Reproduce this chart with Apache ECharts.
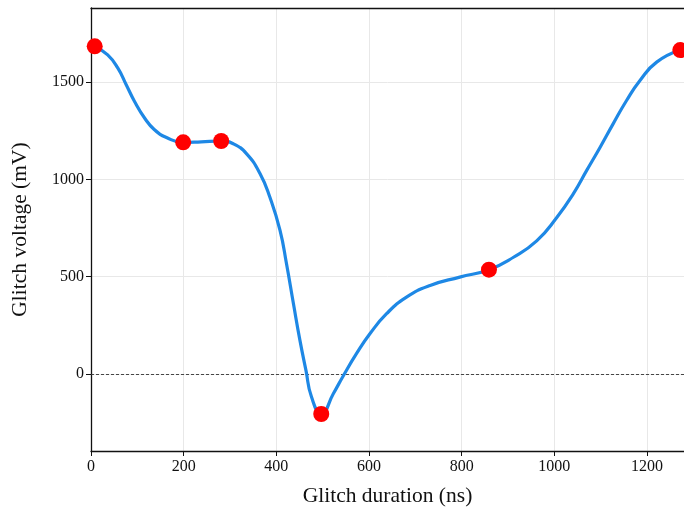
<!DOCTYPE html>
<html>
<head>
<meta charset="utf-8">
<script src="https://cdn.jsdelivr.net/npm/echarts@6/dist/echarts.min.js"></script>
<style>
  html, body { margin: 0; padding: 0; background: #fff; }
  #chart { width: 684px; height: 507px; }
</style>
</head>
<body>
<div id="chart"></div>
<script>
// measured points (red markers)
const pointX = [8, 199, 281, 497, 859, 1272]
const pointY = [1683, 1190, 1197, -205, 536, 1664]

// fitted curve
const curveX = [8, 36, 58, 76, 94, 116, 137, 163, 199, 238, 281, 307, 336, 365, 386, 408, 422, 437, 451, 464, 476, 497,
    523, 545, 573, 602, 638, 681, 732, 796, 859, 912, 962, 1005, 1041, 1070, 1099, 1127, 1156, 1185, 1221, 1272]
const curveY = [1683, 1639, 1571, 1486, 1400, 1314, 1255, 1215, 1190, 1193, 1197, 1183, 1131, 1029, 909, 738, 567, 361, 173, 19, -118, -205,
    -101, -7, 105, 207, 310, 395, 455, 498, 536, 600, 684, 803, 926, 1046, 1165, 1285, 1405, 1508, 1602, 1664]

const xTicks = [0, 200, 400, 600, 800, 1000, 1200]
const yTicks = [0, 500, 1000, 1500]

const font = "'Liberation Serif', 'DejaVu Serif', serif"

const chart = echarts.init(document.getElementById('chart'))
chart.setOption({
    animation: false,
    backgroundColor: '#fff',
    grid: {
        left: 91,
        top: 8,
        right: 0,
        bottom: 56,
        outerBoundsMode: 'none',
    },
    xAxis: [
        {
            type: 'value',
            min: 0,
            max: 1280,
            name: 'Glitch duration (ns)',
            nameLocation: 'middle',
            nameGap: 34,
            nameTextStyle: { fontFamily: font, fontSize: 21.5, color: '#111' },
            axisLine: { onZero: false, lineStyle: { color: '#111', width: 1.3 } },
            axisTick: { show: true, length: 5, customValues: xTicks, lineStyle: { color: '#111' } },
            axisLabel: { customValues: xTicks, formatter: v => String(v), fontFamily: font, fontSize: 16, color: '#111', margin: 8 },
            splitLine: { show: true, lineStyle: { color: '#e8e8e8', width: 1 } },
        },
        {
            // top spine only
            type: 'value',
            position: 'top',
            min: 0,
            max: 1280,
            axisLine: { show: true, onZero: false, lineStyle: { color: '#111', width: 1.3 } },
            axisTick: { show: false },
            axisLabel: { show: false },
            splitLine: { show: false },
        }
    ],
    yAxis: {
        type: 'value',
        min: -395,
        max: 1880,
        name: 'Glitch voltage (mV)',
        nameLocation: 'middle',
        nameGap: 60,
        nameTextStyle: { fontFamily: font, fontSize: 21.5, color: '#111' },
        axisLine: { show: true, onZero: false, lineStyle: { color: '#111', width: 1.3 } },
        axisTick: { show: true, length: 5, customValues: yTicks, lineStyle: { color: '#111' } },
        axisLabel: { customValues: yTicks, formatter: v => String(v), fontFamily: font, fontSize: 16, color: '#111', margin: 7 },
        splitLine: { show: true, lineStyle: { color: '#e8e8e8', width: 1 } },
    },
    series: [
        {
            name: 'fit',
            type: 'line',
            data: curveX.map((x, i) => [x, curveY[i]]),
            smooth: 0.5,
            showSymbol: false,
            lineStyle: { color: '#1E88E5', width: 3.2 },
            z: 3,
            markLine: {
                silent: true,
                symbol: 'none',
                label: { show: false },
                lineStyle: { color: '#333', width: 0.9, type: [3, 2] },
                data: [{ yAxis: 0 }],
                z: 2,
            },
        },
        {
            name: 'points',
            type: 'scatter',
            data: pointX.map((x, i) => [x, pointY[i]]),
            symbolSize: 16,
            itemStyle: { color: '#ff0000', opacity: 1 },
            z: 5,
        }
    ]
})

window.addEventListener('resize', () => {
    chart.resize()
})
</script>
</body>
</html>
